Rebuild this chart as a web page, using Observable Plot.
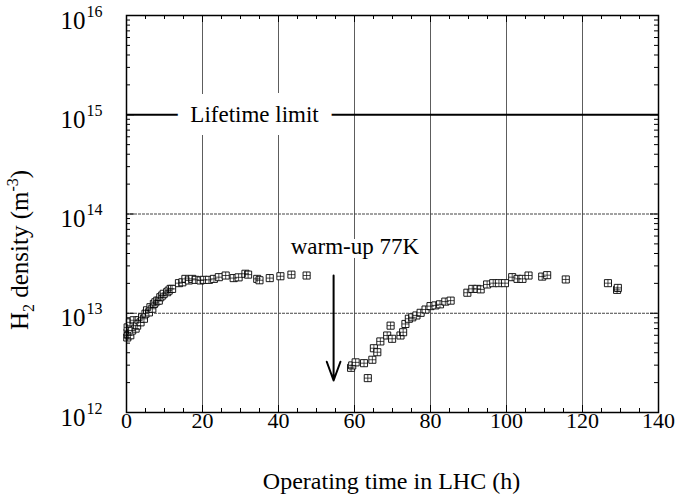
<!DOCTYPE html>
<html><head><meta charset="utf-8">
<script src="https://cdn.jsdelivr.net/npm/d3@7"></script>
<script src="https://cdn.jsdelivr.net/npm/@observablehq/plot@0.6"></script>
<style>body{margin:0;background:#fff}</style>
</head><body><div id="chart"></div>
<script>
// Before warm-up (operating time h, H2 density m^-3)
const time1 = [0.2,0.3,0.3,0.5,0.9,1.0,1.5,1.9,2.4,2.8,3.2,3.7,4.1,4.6,5.0,5.4,5.9,6.3,6.8,7.2,7.6,8.1,8.5,8.9,9.4,9.8,10.7,11.1,11.6,12.0,13.8,14.7,15.5,16.4,17.3,18.2,19.5,20.3,21.7,23.0,24.3,26.1,28.2,29.5,31.3,32.0,34.4,35.0,37.7,40.5,43.4,47.4];
const dens1 = [5.7e12,6.4e12,7.2e12,6.0e12,8.1e12,6.0e12,6.7e12,8.5e12,7.0e12,7.5e12,8.5e12,8.1e12,9.1e12,8.8e12,9.9e12,1.07e13,1.02e13,1.15e13,1.11e13,1.24e13,1.29e13,1.34e13,1.34e13,1.45e13,1.51e13,1.57e13,1.63e13,1.69e13,1.76e13,1.76e13,2.01e13,2.05e13,2.22e13,2.14e13,2.22e13,2.17e13,2.14e13,2.17e13,2.17e13,2.22e13,2.31e13,2.4e13,2.26e13,2.3e13,2.5e13,2.45e13,2.22e13,2.15e13,2.26e13,2.36e13,2.45e13,2.4e13];
// After warm-up to 77K
const time2 = [59.1,59.4,60.3,62.5,63.5,64.7,65.1,66.0,66.8,68.6,69.5,69.9,72.1,72.8,73.4,74.3,75.2,76.3,77.4,78.7,80.0,81.3,82.5,83.9,85.3,89.7,91.0,92.3,93.2,94.9,96.5,98.0,99.6,101.5,102.9,104.2,105.8,109.4,110.7,115.6,126.7,129.1,129.3];
const dens2 = [2.82e12,2.98e12,3.2e12,3.14e12,2.22e12,3.4e12,4.44e12,4.05e12,5.2e12,5.97e12,7.5e12,5.53e12,5.97e12,6.44e12,7.8e12,8.8e12,9.1e12,9.5e12,1.01e13,1.09e13,1.18e13,1.2e13,1.23e13,1.31e13,1.34e13,1.61e13,1.76e13,1.76e13,1.74e13,1.95e13,2.01e13,2.01e13,2.01e13,2.31e13,2.22e13,2.22e13,2.4e13,2.34e13,2.42e13,2.19e13,2.01e13,1.72e13,1.8e13];

const xTickLabels = [0,20,40,60,80,100,120,140];
const xGridLines = [20,40,60,80,100,120];
const yExponents = [12,13,14,15,16];
const yGridLines = [1e13,1e14];
const lifetimeLimit = [1e15];
const lifetimeLabel = ["Lifetime limit"];
const lifetimeLabelTime = [33.7];
const warmupLabel = ["warm-up 77K"];
const warmupLabelTime = [43.2];
const warmupLabelDensity = [4.7e13];
const arrowTime = [54.5];
const arrowFrom = [2.4e13];
const arrowTo = [2.1e12];
const xTitle = "Operating time in LHC (h)";

const points = time1.map((t,i)=>({t, n: dens1[i]})).concat(time2.map((t,i)=>({t, n: dens2[i]})));
const xMinor = d3.range(5,140,5).filter(d=>d%20!==0);
const yMinor = [];
for (let e = 12; e < 16; e++) for (let k = 2; k <= 9; k++) yMinor.push(k*10**e);
const yMajor = yExponents.map(e=>10**e);

const W = 677, H = 501, mL = 126, mR = 19, mT = 15, mB = 89;
const FW = W-mL-mR, FH = H-mT-mB;
const font = "Liberation Serif";
const tx = {fill: "black", fontFamily: font};

const plot = Plot.plot({
  width: W, height: H,
  marginLeft: mL, marginRight: mR, marginTop: mT, marginBottom: mB,
  style: {fontFamily: font, background: "white", color: "black"},
  x: {domain: [0,140], axis: null},
  y: {type: "log", domain: [1e12,1e16], axis: null},
  marks: [
    Plot.ruleX(xGridLines, {x: d=>d, stroke: "#333", strokeWidth: 0.8}),
    Plot.ruleY(yGridLines, {y: d=>d, stroke: "#444", strokeWidth: 1, strokeDasharray: "3,1"}),
    Plot.ruleY(lifetimeLimit, {y: d=>d, stroke: "black", strokeWidth: 2.2}),
    Plot.text(lifetimeLabel, {...tx, x: lifetimeLabelTime, y: lifetimeLimit, text: d=>d, fontSize: 23, stroke: "white", strokeWidth: 26, strokeLinejoin: "miter"}),
    Plot.text(warmupLabel, {...tx, x: warmupLabelTime, y: warmupLabelDensity, text: d=>d, textAnchor: "start", fontSize: 23, stroke: "white", strokeWidth: 8}),
    Plot.arrow(arrowTime.map((t,i)=>({t, a: arrowFrom[i], b: arrowTo[i]})), {x1: "t", x2: "t", y1: "a", y2: "b", stroke: "black", strokeWidth: 2, headLength: 15, headAngle: 40}),
    // ticks (inward)
    Plot.tickX(xMinor, {x: d=>d, insetTop: FH-4, stroke: "black"}),
    Plot.tickX(xMinor, {x: d=>d, insetBottom: FH-4, stroke: "black"}),
    Plot.tickX(xTickLabels, {x: d=>d, insetTop: FH-7, stroke: "black"}),
    Plot.tickX(xTickLabels, {x: d=>d, insetBottom: FH-7, stroke: "black"}),
    Plot.tickY(yMinor, {y: d=>d, insetRight: FW-4, stroke: "black"}),
    Plot.tickY(yMinor, {y: d=>d, insetLeft: FW-4, stroke: "black"}),
    Plot.tickY(yMajor, {y: d=>d, insetRight: FW-8, stroke: "black"}),
    Plot.tickY(yMajor, {y: d=>d, insetLeft: FW-8, stroke: "black"}),
    Plot.dot(points, {x: "t", y: "n", symbol: "square", r: 4, fill: "white", stroke: "black", strokeWidth: 0.9}),
    Plot.dot(points, {x: "t", y: "n", symbol: "plus", r: 2.4, stroke: "black", strokeWidth: 0.7}),
    Plot.frame({stroke: "black", strokeWidth: 1.5}),
    // tick labels
    Plot.text(xTickLabels, {...tx, x: d=>d, frameAnchor: "bottom", dy: 15, text: d=>String(d), fontSize: 22}),
    Plot.text(yExponents, {...tx, y: d=>10**d, frameAnchor: "left", dx: -41, dy: 5, textAnchor: "end", text: ()=>"10", fontSize: 25}),
    Plot.text(yExponents, {...tx, y: d=>10**d, frameAnchor: "left", dx: -40, dy: -4, textAnchor: "start", text: d=>String(d), fontSize: 16}),
    Plot.text([xTitle], {...tx, frameAnchor: "bottom", dx: -1, dy: 76, text: d=>d, fontSize: 24})
  ]
});

// y-axis title with subscript / superscript
const svg = d3.select(plot);
const t = svg.append("text")
  .attr("transform", "translate(28,250) rotate(-90)")
  .attr("text-anchor", "middle")
  .attr("fill", "black")
  .attr("font-family", font)
  .attr("font-size", 25);
t.append("tspan").text("H");
t.append("tspan").attr("dy", 6).attr("font-size", 16).text("2");
t.append("tspan").attr("dy", -6).text(" density (m");
t.append("tspan").attr("dy", -10).attr("font-size", 16).text("-3");
t.append("tspan").attr("dy", 10).text(")");

document.getElementById("chart").appendChild(plot);
</script>
</body></html>
